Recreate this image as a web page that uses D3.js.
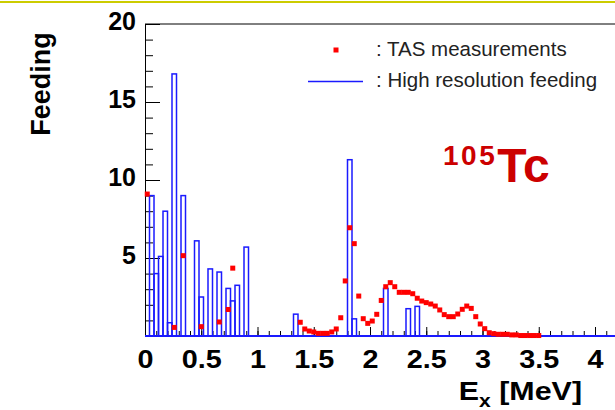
<!DOCTYPE html>
<html lang="en">
<head>
    <meta charset="UTF-8">
    <title>105Tc feeding</title>
    <script src="https://cdnjs.cloudflare.com/ajax/libs/d3/7.8.5/d3.js"></script>
    <style>
        body { margin: 0; background: #fff; }
        svg { display: block; font-family: "Liberation Sans", Arial, sans-serif; }
    </style>
</head>
<body>
<svg width="615" height="410"></svg>

<script>
    // High resolution feeding, one value per 40 keV bin starting at 0 MeV
    const binWidth = 0.04;
    const hrFeeding = [
        0, 9.0, 4.0, 5.1, 8.0, 0.85, 16.8, 0, 9.0, 0,
        0, 6.1, 2.5, 0, 4.3, 0, 4.1, 0, 3.05, 2.25,
        3.25, 0, 5.7, 0, 0, 0, 0, 0, 0, 0,
        0, 0, 0, 1.4, 0, 0, 0, 0, 0, 0,
        0, 0, 0, 0, 0, 11.3, 1.1, 0, 0, 0,
        0, 0, 0, 3.05, 0, 0, 0, 0, 1.75, 0,
        1.9
    ];

    // TAS measurements (bin centre in MeV, feeding)
    const tasEnergy = [
        0.02, 0.26, 0.34, 0.50, 0.66, 0.74, 0.78,
        1.38, 1.42, 1.46, 1.50, 1.54, 1.58, 1.62, 1.66, 1.70, 1.74, 1.78,
        1.82, 1.86, 1.90, 1.94, 1.98, 2.02, 2.06, 2.10, 2.14, 2.18, 2.22,
        2.26, 2.30, 2.34, 2.38, 2.42, 2.46, 2.50, 2.54, 2.58, 2.62, 2.66,
        2.70, 2.74, 2.78, 2.82, 2.86, 2.90, 2.94, 2.98, 3.02, 3.06, 3.10,
        3.14, 3.18, 3.22, 3.26, 3.30, 3.34, 3.38, 3.42, 3.46, 3.50
    ];
    const tasFeeding = [
        9.1, 0.55, 5.15, 0.6, 0.9, 1.7, 4.35,
        0.88, 0.45, 0.32, 0.26, 0.17, 0.17, 0.17, 0.26, 0.45, 1.17, 3.53,
        6.94, 5.92, 2.56, 1.11, 0.81, 0.96, 1.39, 2.28, 3.16, 3.42, 3.16,
        2.80, 2.80, 2.80, 2.71, 2.42, 2.24, 2.14, 2.05, 1.92, 1.67, 1.37,
        1.24, 1.24, 1.41, 1.71, 1.92, 1.77, 1.24, 0.77, 0.47, 0.21, 0.15,
        0.11, 0.11, 0.11, 0.07, 0.07, 0.03, 0.03, 0.03, 0.03, 0.03
    ];

    const xMajorTicks = [0, 0.5, 1, 1.5, 2, 2.5, 3, 3.5, 4];
    const yMajorTicks = [5, 10, 15, 20];
    const legendLabels = [": TAS measurements", ": High resolution feeding"];

    const svg = d3.select("svg");
    const x = d3.scaleLinear().domain([0, 4.2]).range([145, 617.5]);
    const y = d3.scaleLinear().domain([0, 20]).range([336, 24]);

    // thin yellow rule at the very top
    svg.append("line")
        .attr("x1", 0).attr("x2", 615).attr("y1", 2).attr("y2", 2)
        .attr("stroke", "#cccc00").attr("stroke-width", 2);

    // frame top
    svg.append("line")
        .attr("x1", x(0)).attr("x2", 615).attr("y1", y(20)).attr("y2", y(20))
        .attr("stroke", "#000").attr("stroke-width", 1);

    // x axis: minor ticks, then major ticks with labels
    svg.append("g")
        .attr("transform", `translate(0,${y(0)})`)
        .call(d3.axisBottom(x).tickValues(d3.range(0, 4.21, 0.1)).tickSizeInner(-5).tickSizeOuter(0).tickFormat(""))
        .call(g => g.select(".domain").attr("stroke", "#000"));
    const xAxis = svg.append("g")
        .attr("transform", `translate(0,${y(0)})`)
        .call(d3.axisBottom(x).tickValues(xMajorTicks).tickSizeInner(-9).tickSizeOuter(0).tickPadding(14).tickFormat(d => d));
    xAxis.select(".domain").remove();
    xAxis.selectAll("text")
        .attr("font-size", 25).attr("font-weight", "bold").attr("fill", "#000")
        .attr("font-family", "Liberation Sans, Arial, sans-serif")
        .attr("transform", "scale(1.15,1)");

    // y axis
    svg.append("g")
        .attr("transform", `translate(${x(0)},0)`)
        .call(d3.axisLeft(y).tickValues(d3.range(1, 20, 1)).tickSizeInner(-8).tickSizeOuter(0).tickFormat(""))
        .call(g => g.select(".domain").attr("stroke", "#000"));
    const yAxis = svg.append("g")
        .attr("transform", `translate(${x(0)},0)`)
        .call(d3.axisLeft(y).tickValues(yMajorTicks).tickSizeInner(-15).tickSizeOuter(0).tickPadding(9).tickFormat(d => d));
    yAxis.select(".domain").remove();
    yAxis.selectAll("text")
        .attr("font-size", 25).attr("font-weight", "bold").attr("fill", "#000")
        .attr("font-family", "Liberation Sans, Arial, sans-serif")
        .attr("dy", "0.2em");

    // histogram: blue baseline plus one outlined rectangle per filled bin
    const bins = hrFeeding.map((v, i) => ({ lo: i * binWidth, hi: (i + 1) * binWidth, v }))
        .filter(b => b.v > 0);
    svg.append("line")
        .attr("x1", x(0)).attr("x2", x(4.2)).attr("y1", y(0)).attr("y2", y(0))
        .attr("stroke", "#1a1aff").attr("stroke-width", 2);
    svg.append("g")
        .selectAll("rect")
        .data(bins)
        .join("rect")
        .attr("x", d => x(d.lo))
        .attr("y", d => y(d.v))
        .attr("width", d => x(d.hi) - x(d.lo))
        .attr("height", d => y(0) - y(d.v))
        .attr("fill", "none")
        .attr("stroke", "#1a1aff")
        .attr("stroke-width", 1.5);

    // TAS points as small red squares
    const sq = 5;
    svg.append("g")
        .selectAll("rect")
        .data(tasEnergy.map((e, i) => [e, tasFeeding[i]]))
        .join("rect")
        .attr("x", d => x(d[0]) - sq / 2)
        .attr("y", d => y(d[1]) - sq / 2)
        .attr("width", sq).attr("height", sq)
        .attr("fill", "#ff0000");

    // axis titles
    svg.append("text")
        .attr("transform", "translate(50,84) rotate(-90)")
        .attr("text-anchor", "middle")
        .attr("font-size", 27).attr("font-weight", "bold")
        .text("Feeding");

    const xTitle = svg.append("text")
        .attr("transform", "translate(582,400) scale(1.17,1)")
        .attr("text-anchor", "end")
        .attr("font-size", 26).attr("font-weight", "bold");
    xTitle.append("tspan").text("E");
    xTitle.append("tspan").attr("font-size", 18).attr("dy", 7).text("x");
    xTitle.append("tspan").attr("dy", -7).text(" [MeV]");

    // legend
    svg.append("rect")
        .attr("x", 336 - sq / 2).attr("y", 50 - sq / 2)
        .attr("width", sq).attr("height", sq)
        .attr("fill", "#ff0000");
    svg.append("line")
        .attr("x1", 308).attr("x2", 363).attr("y1", 81.5).attr("y2", 81.5)
        .attr("stroke", "#1a1aff").attr("stroke-width", 1.3);
    svg.append("g")
        .selectAll("text")
        .data(legendLabels)
        .join("text")
        .attr("x", 376)
        .attr("y", (d, i) => 56 + i * 31)
        .attr("font-size", 20.5)
        .attr("fill", "#222")
        .text(d => d);

    // nucleus label
    const nucl = svg.append("text")
        .attr("x", 443).attr("y", 182)
        .attr("fill", "#cc0000").attr("font-weight", "bold");
    nucl.append("tspan").attr("font-size", 28).attr("dy", -17).attr("letter-spacing", 2.5).text("105");
    nucl.append("tspan").attr("font-size", 48).attr("dy", 17).attr("letter-spacing", 0).text("Tc");
</script>
</body>
</html>
